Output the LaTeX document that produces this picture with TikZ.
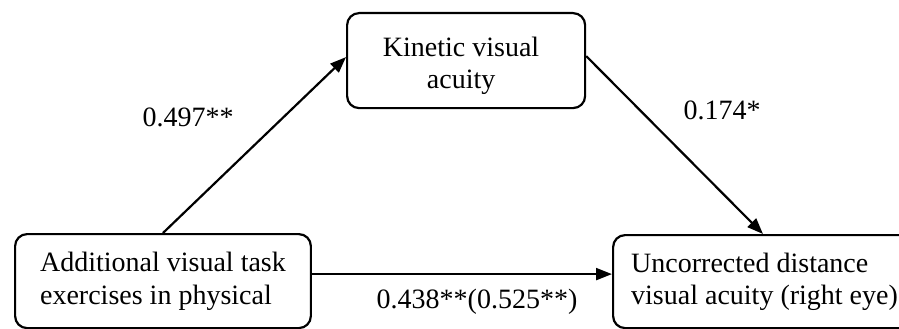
\documentclass[tikz,border=0pt]{standalone}
\usepackage{fontspec}
\setmainfont{Liberation Serif}
\usetikzlibrary{arrows.meta,calc}
\begin{document}
\begin{tikzpicture}[x=1pt,y=-1pt,
  txt/.style={font=\fontsize{28}{32.5}\selectfont},
  box/.style={draw, line width=2.2pt, rounded corners=12pt, inner ysep=0pt, txt},
  arr/.style={line width=2.2pt, -{Triangle[length=16pt,width=12pt]}},
  lbl/.style={txt, inner sep=0pt}]
\useasboundingbox (0,0) rectangle (899,329);
\node[box, anchor=north west, inner xsep=25pt, minimum height=94pt, align=left]
  (left) at (14,233) {Additional visual task\\exercises in physical};
\node[box, anchor=north west, minimum width=238pt, minimum height=95pt]
  (top) at (346,12) {};
\node[txt, align=center, inner sep=0pt] (toptext) at ($(top.center)+(-5,5)$) {Kinetic visual\\acuity};
\node[box, anchor=north west, minimum width=320pt, minimum height=93pt]
  (right) at (612,234) {};
\node[txt, align=left, inner sep=0pt, anchor=west] (righttext) at ($(right.west)+(19,0)$)
  {Uncorrected distance\\visual acuity (right eye)};
\coordinate (a1) at ($(top.west)+(0,-3.5)$);
\coordinate (b0) at ($(top.east)+(0,-4.5)$);
\coordinate (b1) at ($(right.north west)+(151,0)$);
\coordinate (h0) at ($(left.east)+(0,-7)$);
\draw[arr] (left.north) -- (a1);
\draw[arr] (b0) -- (b1);
\draw[arr] (h0) -- (h0 -| right.west);
\node[lbl] (l1) at (188,117) {0.497**};
\node[lbl] (l2) at (722,110) {0.174*};
\node[lbl] (l3) at (477,302) {0.438**(0.525**)};
\end{tikzpicture}
\end{document}
